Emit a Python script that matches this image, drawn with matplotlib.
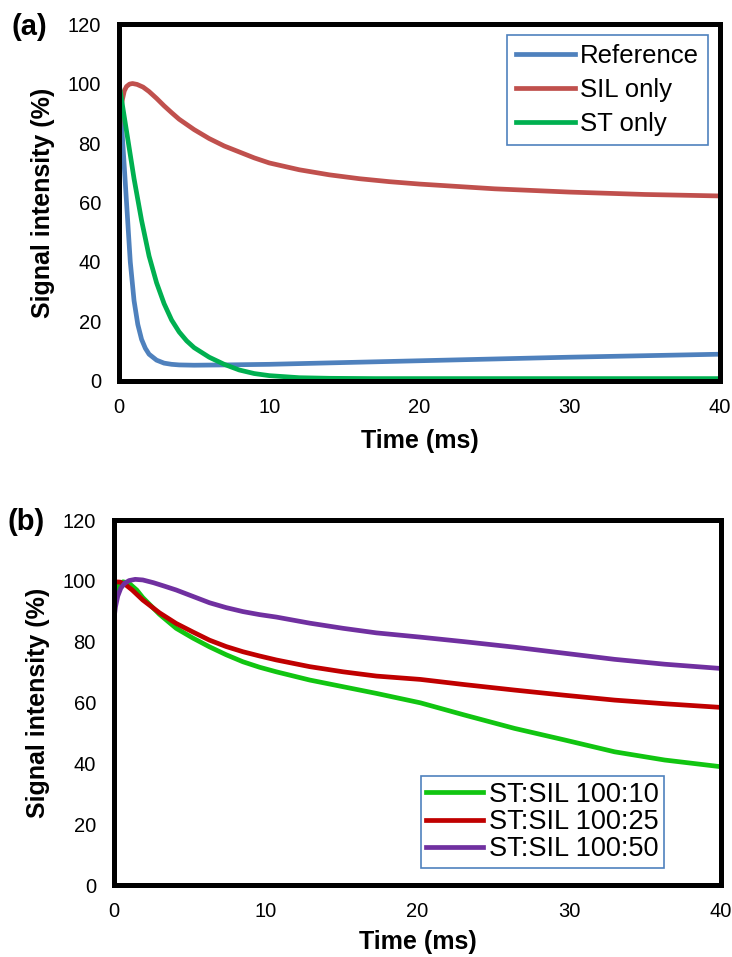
import numpy as np
import matplotlib.pyplot as plt

plt.rcParams['font.family'] = ['Liberation Sans', 'DejaVu Sans']

# Panel (a): single-component decays
t_ref = [0, 0.25, 0.5, 0.75, 1.0, 1.25, 1.5, 1.75, 2.0, 2.5, 3.0, 3.5, 4.0, 5.0, 7.0, 10, 15, 20, 25, 30, 35, 40]
ref = [100, 80, 60, 40, 27, 19, 14, 11, 9, 7.0, 6.0, 5.6, 5.4, 5.3, 5.4, 5.6, 6.2, 6.8, 7.4, 8.0, 8.5, 9.0]

t_sil = [0, 0.1, 0.2, 0.35, 0.5, 0.7, 0.9, 1.2, 1.6, 2.0, 2.5, 3.0, 3.5, 4.0, 5.0, 6.0, 7.0, 8.0, 9.0,
         10, 12, 14, 16, 18, 20, 25, 30, 35, 40]
sil = [82, 89, 94, 97.5, 99, 99.8, 100, 99.7, 98.8, 97.3, 95, 92.5, 90.2, 88, 84.5, 81.5, 79, 77, 75,
       73.3, 71, 69.3, 68, 67, 66.2, 64.6, 63.5, 62.7, 62.2]

t_st = [0, 0.5, 1.0, 1.5, 2.0, 2.5, 3.0, 3.5, 4.0, 4.5, 5.0, 6.0, 7.0, 8.0, 9.0, 10, 12, 14, 17, 20, 30, 40]
st = [100, 84, 68, 54, 42, 33, 26, 20.5, 16.5, 13.5, 11.2, 8.0, 5.6, 3.7, 2.5, 1.8, 1.1, 0.9, 0.8, 0.8, 0.8, 0.8]

# Panel (b): ST:SIL mixtures
t_10 = [0, 0.3, 0.6, 1.0, 1.5, 1.9, 3.0, 4.1, 5.2, 6.3, 7.4, 8.5, 9.6, 10.7, 12.9, 15.1, 17.3, 20.2,
        23.1, 26.4, 29.7, 33, 36.3, 40]
mix10 = [95, 98.5, 99.7, 99.2, 97, 94.5, 89, 84.4, 81.2, 78.3, 75.7, 73.4, 71.6, 70.1, 67.4, 65.2, 63, 59.9,
         55.9, 51.5, 47.7, 43.8, 41.1, 38.9]

t_25 = [0, 0.4, 0.8, 1.2, 1.9, 3.0, 4.1, 5.2, 6.3, 7.4, 8.5, 9.6, 10.7, 12.9, 15.1, 17.3, 20.2, 23.1, 26.4,
        29.7, 33, 36.3, 40]
mix25 = [99.7, 99.6, 98.6, 97, 93.7, 89.5, 86, 83.2, 80.5, 78.4, 76.7, 75.3, 74, 71.8, 70.1, 68.7, 67.6, 65.9,
         64.1, 62.4, 60.8, 59.6, 58.4]

t_50 = [0, 0.1, 0.25, 0.45, 0.7, 1.0, 1.4, 1.9, 2.6, 3.3, 4.1, 5.2, 6.3, 7.4, 8.5, 9.6, 10.7, 12.9, 15.1,
        17.3, 20.2, 23.1, 26.4, 29.7, 33, 36.3, 40]
mix50 = [87.5, 91.5, 95, 97.6, 99.2, 100.1, 100.5, 100.3, 99.4, 98.3, 97, 94.9, 92.8, 91.2, 89.9, 88.9, 88.1, 86.1,
         84.4, 82.9, 81.5, 80, 78.2, 76.2, 74.2, 72.6, 71.2]

yticks = [0, 20, 40, 60, 80, 100, 120]
xticks = [0, 10, 20, 30, 40]


def style_axes(ax, xpad):
    ax.set_xlim(0, 40)
    ax.set_ylim(0, 120)
    ax.set_xticks(xticks)
    ax.set_yticks(yticks)
    ax.tick_params(length=0, labelsize=14.5)
    ax.tick_params(axis='y', pad=13)
    ax.tick_params(axis='x', pad=12)
    for sp in ax.spines.values():
        sp.set_linewidth(3.6)
        sp.set_color('black')
    ax.set_xlabel('Time (ms)', fontsize=18, fontweight='bold', labelpad=xpad)
    ax.set_ylabel('Signal intensity (%)', fontsize=18, fontweight='bold', labelpad=9)


fig = plt.figure(figsize=(7.32, 9.57), dpi=100)

ax1 = fig.add_axes([0.1626, 0.6019, 0.821, 0.373])
ax1.plot(t_ref, ref, color='#4F81BD', lw=3.4, label='Reference')
ax1.plot(t_sil, sil, color='#C0504D', lw=3.4, label='SIL only')
ax1.plot(t_st, st, color='#00B050', lw=3.4, label='ST only')
style_axes(ax1, 9)
leg1 = ax1.legend(loc='upper right', bbox_to_anchor=(0.98, 0.969), fontsize=18.5,
                  fancybox=False, framealpha=1, edgecolor='#4F81BD',
                  handlelength=2.3, handletextpad=0.2, labelspacing=0.38,
                  borderpad=0.35, borderaxespad=0)
leg1.get_frame().set_linewidth(1.2)
for h in leg1.legend_handles:
    h.set_linewidth(3.4)
fig.text(0.016, 0.972, '(a)', fontsize=21, fontweight='bold', va='center', ha='left')

ax2 = fig.add_axes([0.1557, 0.0752, 0.829, 0.3814])
ax2.plot(t_10, mix10, color='#11C511', lw=3.4, label='ST:SIL 100:10')
ax2.plot(t_25, mix25, color='#C00000', lw=3.4, label='ST:SIL 100:25')
ax2.plot(t_50, mix50, color='#7030A0', lw=3.4, label='ST:SIL 100:50')
style_axes(ax2, 7)
leg2 = ax2.legend(loc='lower right', bbox_to_anchor=(0.906, 0.047), fontsize=19.5,
                  fancybox=False, framealpha=1, edgecolor='#4F81BD',
                  handlelength=2.1, handletextpad=0.2, labelspacing=0.05,
                  borderpad=0.2, borderaxespad=0)
leg2.get_frame().set_linewidth(1.2)
for h in leg2.legend_handles:
    h.set_linewidth(3.4)
fig.text(0.010, 0.4545, '(b)', fontsize=21, fontweight='bold', va='center', ha='left')

fig.savefig('out.png', dpi=100)
